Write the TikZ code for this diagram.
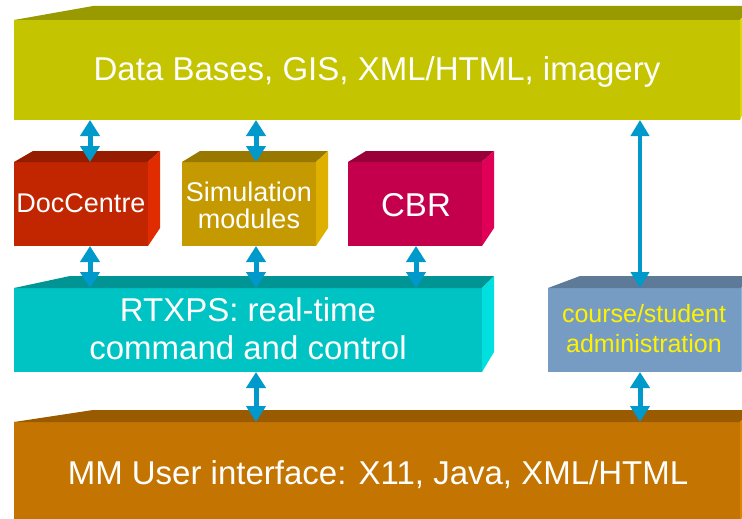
\documentclass[tikz,border=0pt]{standalone}
\usepackage{fontspec}
\setmainfont{Liberation Sans}
\usetikzlibrary{arrows.meta}
\definecolor{dbF}{HTML}{C4C400}\definecolor{dbT}{HTML}{999900}\definecolor{dbR}{HTML}{DADA00}
\definecolor{docF}{HTML}{C22600}\definecolor{docT}{HTML}{961C00}\definecolor{docR}{HTML}{E02C00}
\definecolor{simF}{HTML}{C49A00}\definecolor{simT}{HTML}{997800}\definecolor{simR}{HTML}{E0B000}
\definecolor{cbrF}{HTML}{C4004C}\definecolor{cbrT}{HTML}{990039}\definecolor{cbrR}{HTML}{E00058}
\definecolor{rtxF}{HTML}{00C4C4}\definecolor{rtxT}{HTML}{009494}\definecolor{rtxR}{HTML}{00E0E0}
\definecolor{crsF}{HTML}{779CC4}\definecolor{crsT}{HTML}{5E7A99}\definecolor{crsR}{HTML}{8AB4E0}
\definecolor{mmF}{HTML}{C47400}\definecolor{mmT}{HTML}{995A00}\definecolor{mmR}{HTML}{E08400}
\definecolor{arrowc}{HTML}{0099CC}
\begin{document}
\begin{tikzpicture}[x=1pt,y=-1pt,
  face/.style={draw=none, inner sep=0pt, outer sep=0pt, anchor=north west},
  dar/.style={draw=arrowc, line width=5pt, {Triangle[length=16pt,width=19pt]}-{Triangle[length=16pt,width=19pt]}},
  lar/.style={draw=arrowc, line width=4pt, {Triangle[length=16pt,width=18pt]}-{Triangle[length=16pt,width=18pt]}},
  lbl/.style={text=white, anchor=base, inner sep=0pt},
  big/.style={font=\fontsize{33}{38}\selectfont},
  mid/.style={font=\fontsize{27}{27}\selectfont},
  sml/.style={font=\fontsize{25}{30}\selectfont}]
\useasboundingbox (0,0) rectangle (742,519);
\clip (0,0) rectangle (742,519);
% Data bases box
\node[face, fill=dbF, minimum width=726pt, minimum height=100pt] (db) at (14,20) {};
\fill[dbT] (db.north west) -- ++(79,-14) -- ([shift={(12,-14)}]db.north east) -- (db.north east) -- cycle;
\fill[dbR] (db.north east) -- ++(12,-14) -- ++(0,86) -- (db.south east) -- cycle;
% DocCentre
\node[face, fill=docF, minimum width=134pt, minimum height=84pt] (doc) at (14,162) {};
\fill[docT] (doc.north west) -- ++(19,-11) -- ([shift={(12,-11)}]doc.north east) -- (doc.north east) -- cycle;
\fill[docR] (doc.north east) -- ++(12,-11) -- ++(0,77) -- (doc.south east) -- cycle;
% Simulation
\node[face, fill=simF, minimum width=134pt, minimum height=84pt] (sim) at (182,162) {};
\fill[simT] (sim.north west) -- ++(18,-11) -- ([shift={(12,-11)}]sim.north east) -- (sim.north east) -- cycle;
\fill[simR] (sim.north east) -- ++(12,-11) -- ++(0,77) -- (sim.south east) -- cycle;
% CBR
\node[face, fill=cbrF, minimum width=134pt, minimum height=84pt] (cbr) at (348,162) {};
\fill[cbrT] (cbr.north west) -- ++(18,-11) -- ([shift={(12,-11)}]cbr.north east) -- (cbr.north east) -- cycle;
\fill[cbrR] (cbr.north east) -- ++(12,-11) -- ++(0,77) -- (cbr.south east) -- cycle;
% RTXPS
\node[face, fill=rtxF, minimum width=468pt, minimum height=84pt] (rtx) at (14,288) {};
\fill[rtxT] (rtx.north west) -- ++(56,-12) -- ([shift={(12,-12)}]rtx.north east) -- (rtx.north east) -- cycle;
\fill[rtxR] (rtx.north east) -- ++(12,-12) -- ++(0,76) -- (rtx.south east) -- cycle;
% course/student
\node[face, fill=crsF, minimum width=193pt, minimum height=84pt] (crs) at (548,288) {};
\fill[crsT] (crs.north west) -- ++(32,-12) -- ([shift={(12,-12)}]crs.north east) -- (crs.north east) -- cycle;
\fill[crsR] (crs.north east) -- ++(12,-12) -- ++(0,76) -- (crs.south east) -- cycle;
% MM user interface
\node[face, fill=mmF, minimum width=726pt, minimum height=100pt] (mm) at (14,422) {};
\fill[mmT] (mm.north west) -- ++(79,-12) -- ([shift={(12,-12)}]mm.north east) -- (mm.north east) -- cycle;
\fill[mmR] (mm.north east) -- ++(12,-12) -- ++(0,86) -- (mm.south east) -- cycle;
% texts
\node[lbl, big] (dbt) at (377,81) {Data Bases, GIS, XML/HTML, imagery};
\node[lbl, mid] (doct) at (81,212) {DocCentre};
\node[lbl, mid] (simt1) at (249,201) {Simulation};
\node[lbl, mid] (simt2) at (249,228) {modules};
\node[lbl, big] (cbrt) at (416,216) {CBR};
\node[lbl, big] (rtxt1) at (248,321) {RTXPS: real-time};
\node[lbl, big] (rtxt2) at (248,359) {command and control};
\node[lbl, sml, text=yellow] (crst1) at (644,322) {course/student};
\node[lbl, sml, text=yellow] (crst2) at (644,352) {administration};
\node[lbl, big] (mmt) at (378,484) {MM User interface: X11, Java, XML/HTML};
% connectors
\coordinate (c1) at (90,0);
\coordinate (c2) at (256,0);
\coordinate (c3) at (416,0);
\coordinate (c4) at (640,0);
\draw[dar] (db.south -| c1) -- (doc.north -| c1);
\draw[dar] (db.south -| c2) -- (sim.north -| c2);
\draw[lar] (db.south -| c4) -- (crs.north -| c4);
\draw[dar] (doc.south -| c1) -- (rtx.north -| c1);
\draw[dar] (sim.south -| c2) -- (rtx.north -| c2);
\draw[dar] (cbr.south -| c3) -- (rtx.north -| c3);
\draw[dar] (rtx.south -| c2) -- (mm.north -| c2);
\draw[dar] (crs.south -| c4) -- (mm.north -| c4);
\end{tikzpicture}
\end{document}
